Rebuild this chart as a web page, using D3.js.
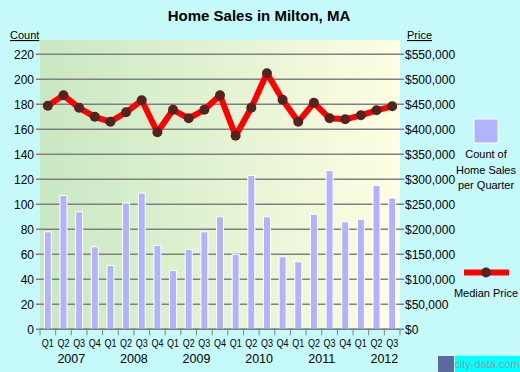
<!DOCTYPE html>
<html>
<head>
<meta charset="utf-8">
<script src="https://cdn.jsdelivr.net/npm/d3@7"></script>
<style>
  body { margin: 0; background: #c6fafa; }
  svg { display: block; font-family: Arial, "Liberation Sans", sans-serif; }
</style>
</head>
<body>
<div id="chart"></div>
<script>
// quarters 2007 Q1 .. 2012 Q3
const years = ['2007', '2008', '2009', '2010', '2011', '2012']
const quarters = [
  'Q1', 'Q2', 'Q3', 'Q4', 'Q1', 'Q2', 'Q3', 'Q4', 'Q1', 'Q2', 'Q3', 'Q4',
  'Q1', 'Q2', 'Q3', 'Q4', 'Q1', 'Q2', 'Q3', 'Q4', 'Q1', 'Q2', 'Q3'
]
const salesCount = [78, 107, 94, 66, 51, 101, 109, 67, 47, 64, 78, 90,
  60, 123, 90, 58, 54, 92, 127, 86, 88, 115, 105]
const medianPrice = [447000, 468000, 443000, 425000, 415000, 434000, 458000, 394000,
  439000, 422000, 439000, 468000, 387000, 443000, 512000, 459000, 415000, 453000,
  422000, 420000, 428000, 438000, 446000]
const countTicks = [0, 20, 40, 60, 80, 100, 120, 140, 160, 180, 200, 220]
const priceTicks = [0, 50000, 100000, 150000, 200000, 250000, 300000, 350000,
  400000, 450000, 500000, 550000]

const width = 520
const height = 372
const plot = { left: 40, right: 400, top: 40, bottom: 329.3 }

const svg = d3.select('#chart').append('svg')
  .attr('width', width)
  .attr('height', height)

svg.append('rect').attr('width', width).attr('height', height).attr('fill', '#c6fafa')

const defs = svg.append('defs')
const grad = defs.append('linearGradient').attr('id', 'bg')
  .attr('x1', 0).attr('y1', 0).attr('x2', 1).attr('y2', 0)
grad.append('stop').attr('offset', '0%').attr('stop-color', '#c8e8c2')
grad.append('stop').attr('offset', '100%').attr('stop-color', '#fefee2')

const x = d3.scaleBand().domain(d3.range(quarters.length))
  .range([plot.left, plot.right])
const y = d3.scaleLinear().domain([0, 220]).range([plot.bottom, plot.bottom - 275])
const yPrice = d3.scaleLinear().domain([0, 550000]).range(y.range())

svg.append('rect')
  .attr('x', plot.left).attr('y', plot.top)
  .attr('width', plot.right - plot.left).attr('height', plot.bottom - plot.top)
  .attr('fill', 'url(#bg)')

// gridlines
svg.append('g').selectAll('line')
  .data(countTicks)
  .join('line')
  .attr('x1', plot.left - 4).attr('x2', plot.right + 4)
  .attr('y1', d => y(d)).attr('y2', d => y(d))
  .attr('stroke', '#808080').attr('stroke-width', 1.5)

// left axis labels
svg.append('g').selectAll('text')
  .data(countTicks)
  .join('text')
  .attr('x', plot.left - 6).attr('y', d => y(d) + 4.5)
  .attr('text-anchor', 'end').attr('font-size', 12)
  .text(d => d)

// right axis labels
svg.append('g').selectAll('text')
  .data(priceTicks)
  .join('text')
  .attr('x', plot.right + 5).attr('y', d => yPrice(d) + 4.5)
  .attr('font-size', 12)
  .text(d => '$' + d3.format(',')(d))

svg.append('text').attr('x', 10).attr('y', 39).attr('font-size', 11)
  .attr('text-decoration', 'underline').text('Count')
svg.append('text').attr('x', 407).attr('y', 39).attr('font-size', 11)
  .attr('text-decoration', 'underline').text('Price')

svg.append('text').attr('x', 259).attr('y', 21)
  .attr('text-anchor', 'middle').attr('font-size', 15).attr('font-weight', 'bold')
  .text('Home Sales in Milton, MA')

// bars
svg.append('g').selectAll('rect')
  .data(salesCount)
  .join('rect')
  .attr('x', (d, i) => x(i) + x.bandwidth() / 2 - 3.5)
  .attr('width', 7)
  .attr('y', d => y(d))
  .attr('height', d => y(0) - y(d))
  .attr('fill', '#b3b3fb')
  .attr('stroke', '#ffffff').attr('stroke-width', 1)

// x axis
svg.append('line')
  .attr('x1', plot.left).attr('x2', plot.right)
  .attr('y1', plot.bottom).attr('y2', plot.bottom)
  .attr('stroke', '#808080').attr('stroke-width', 1.5)
svg.append('g').selectAll('line')
  .data(d3.range(quarters.length + 1))
  .join('line')
  .attr('x1', i => plot.left + i * x.step()).attr('x2', i => plot.left + i * x.step())
  .attr('y1', plot.bottom).attr('y2', plot.bottom + 6)
  .attr('stroke', '#808080').attr('stroke-width', 1)
svg.append('g').selectAll('text')
  .data(quarters)
  .join('text')
  .attr('x', (d, i) => x(i) + x.bandwidth() / 2 - 6)
  .attr('y', 347)
  .attr('font-size', 11.5)
  .attr('textLength', 12).attr('lengthAdjust', 'spacingAndGlyphs')
  .text(d => d)
svg.append('g').selectAll('text')
  .data(years)
  .join('text')
  .attr('x', (d, i) => plot.left + (i * 4 + 2) * x.step())
  .attr('y', 363)
  .attr('text-anchor', 'middle').attr('font-size', 12.5)
  .text(d => d)

// median price line
const line = d3.line()
  .x((d, i) => x(i) + x.bandwidth() / 2)
  .y(d => yPrice(d))
svg.append('path')
  .datum(medianPrice)
  .attr('d', line)
  .attr('fill', 'none').attr('stroke', '#ff0000')
  .attr('stroke-width', 6).attr('stroke-linejoin', 'round')
svg.append('g').selectAll('circle')
  .data(medianPrice)
  .join('circle')
  .attr('cx', (d, i) => x(i) + x.bandwidth() / 2)
  .attr('cy', d => yPrice(d))
  .attr('r', 5)
  .attr('fill', '#552222')

// legend
svg.append('rect').attr('x', 474).attr('y', 119).attr('width', 24).attr('height', 24)
  .attr('fill', '#b3b3fb').attr('stroke', '#ffffff').attr('stroke-width', 1)
const legText = svg.append('text').attr('text-anchor', 'middle').attr('font-size', 11)
;['Count of', 'Home Sales', 'per Quarter'].forEach((t, i) => {
  legText.append('tspan').attr('x', 486).attr('y', 158 + i * 15.5).text(t)
})
svg.append('line').attr('x1', 464).attr('x2', 509).attr('y1', 272.5).attr('y2', 272.5)
  .attr('stroke', '#ff0000').attr('stroke-width', 6)
svg.append('circle').attr('cx', 486).attr('cy', 272.5).attr('r', 5).attr('fill', '#552222')
svg.append('text').attr('x', 486).attr('y', 297).attr('text-anchor', 'middle')
  .attr('font-size', 11).text('Median Price')

// watermark
svg.append('rect').attr('x', 438).attr('y', 356).attr('width', 16).attr('height', 16)
  .attr('fill', '#5a6a9a')
svg.append('rect').attr('x', 455).attr('y', 356).attr('width', 65).attr('height', 16)
  .attr('fill', '#00ffff')
svg.append('text').attr('x', 487).attr('y', 368).attr('text-anchor', 'middle')
  .attr('font-size', 11).attr('fill', '#9a9a9a').text('city-data.com')
</script>
</body>
</html>
